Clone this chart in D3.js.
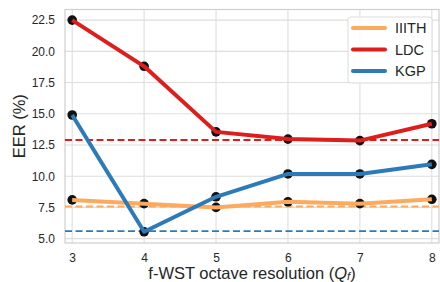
<!DOCTYPE html>
<html>
<head>
<meta charset="utf-8">
<title>EER vs octave resolution</title>
<script src="https://cdn.jsdelivr.net/npm/d3@7"></script>
<style>
  body { margin: 0; background: #fff; }
  svg text { font-family: "Liberation Sans", Arial, sans-serif; fill: #262626; }
</style>
</head>
<body>
<div id="chart"></div>
<script>
// values
const qf = [3, 4, 5, 6, 7, 8];
const seriesNames = ["IIITH", "LDC", "KGP"];
const iiith = [8.1, 7.8, 7.5, 7.95, 7.8, 8.15];
const ldc = [22.5, 18.8, 13.55, 12.97, 12.85, 14.2];
const kgp = [14.9, 5.55, 8.35, 10.18, 10.18, 10.95];
const baselines = [7.57, 12.9, 5.6];   // dashed reference lines
const colors = ["#fdaa5e", "#de1d1d", "#2c7bb8"];
const yTicks = [5.0, 7.5, 10.0, 12.5, 15.0, 17.5, 20.0, 22.5];

const width = 440, height = 282;
const margin = {top: 9.5, right: 1, bottom: 39, left: 65};

const svg = d3.select("#chart").append("svg")
  .attr("width", width).attr("height", height);

const x = d3.scaleLinear()
  .domain([2.9, 8.1])
  .range([margin.left, width - margin.right]);
const y = d3.scaleLinear()
  .domain([4.65, 23.35])
  .range([height - margin.bottom, margin.top]);

// grid
svg.append("g").selectAll("line").data(yTicks).join("line")
  .attr("x1", margin.left).attr("x2", width - margin.right)
  .attr("y1", d => y(d)).attr("y2", d => y(d))
  .attr("stroke", "#dedede").attr("stroke-width", 1.1);
svg.append("g").selectAll("line").data(qf).join("line")
  .attr("y1", margin.top).attr("y2", height - margin.bottom)
  .attr("x1", d => x(d)).attr("x2", d => x(d))
  .attr("stroke", "#dedede").attr("stroke-width", 1.1);

// frame
svg.append("rect")
  .attr("x", margin.left).attr("y", margin.top)
  .attr("width", width - margin.right - margin.left)
  .attr("height", height - margin.bottom - margin.top)
  .attr("fill", "none").attr("stroke", "#cfcfcf").attr("stroke-width", 1.2);

// axes (labels only)
const xAxis = g => g
  .attr("transform", `translate(0,${height - margin.bottom})`)
  .call(d3.axisBottom(x).tickValues(qf).tickSize(0).tickPadding(10).tickFormat(d3.format("d")))
  .call(g => g.select(".domain").remove());
const yAxis = g => g
  .attr("transform", `translate(${margin.left},0)`)
  .call(d3.axisLeft(y).tickValues(yTicks).tickSize(0).tickPadding(10).tickFormat(d3.format(".1f")))
  .call(g => g.select(".domain").remove());
svg.append("g").call(xAxis).selectAll("text").attr("font-size", 12).style("fill", "#262626");
svg.append("g").call(yAxis).selectAll("text").attr("font-size", 12).style("fill", "#262626");

// dashed baselines
svg.append("g").selectAll("line").data(baselines).join("line")
  .attr("x1", margin.left).attr("x2", width - margin.right)
  .attr("y1", d => y(d)).attr("y2", d => y(d))
  .attr("stroke", (d, i) => colors[i])
  .attr("stroke-width", 1.9)
  .attr("stroke-dasharray", "7,3.5");

const allData = [iiith, ldc, kgp];
const line = d3.line().x((d, i) => x(qf[i])).y(d => y(d));

// markers underneath
allData.forEach(vals => {
  svg.append("g").selectAll("circle").data(vals).join("circle")
    .attr("cx", (d, i) => x(qf[i])).attr("cy", d => y(d))
    .attr("r", 4.8).attr("fill", "#111");
});
allData.forEach((vals, k) => {
  svg.append("path").datum(vals)
    .attr("d", line)
    .attr("fill", "none")
    .attr("stroke", colors[k])
    .attr("stroke-width", 4)
    .attr("stroke-linejoin", "round");
});

// legend
const lg = svg.append("g").attr("transform", "translate(348,17)");
lg.append("rect").attr("width", 84).attr("height", 66).attr("rx", 2.5)
  .attr("fill", "#fff").attr("fill-opacity", 0.85)
  .attr("stroke", "#dcdcdc");
seriesNames.forEach((n, i) => {
  const yy = 11 + i * 21.5;
  lg.append("line").attr("x1", 5).attr("x2", 37).attr("y1", yy).attr("y2", yy)
    .attr("stroke", colors[i]).attr("stroke-width", 4).attr("stroke-linecap", "round");
  lg.append("text").attr("x", 47).attr("y", yy).attr("dy", "0.36em")
    .attr("font-size", 14.5).text(n);
});

// axis titles
svg.append("text")
  .attr("transform", `translate(25,${(margin.top + height - margin.bottom) / 2}) rotate(-90)`)
  .attr("text-anchor", "middle").attr("font-size", 16.5)
  .text("EER (%)");
const xt = svg.append("text")
  .attr("x", (margin.left + width - margin.right) / 2).attr("y", 278.5)
  .attr("text-anchor", "middle").attr("font-size", 16.5);
xt.append("tspan").text("f-WST octave resolution (");
xt.append("tspan").attr("font-style", "italic").text("Q");
xt.append("tspan").attr("font-style", "italic").attr("font-size", 11.5).attr("dy", 1.5).text("f");
xt.append("tspan").attr("dy", -1.5).text(")");
</script>
</body>
</html>
